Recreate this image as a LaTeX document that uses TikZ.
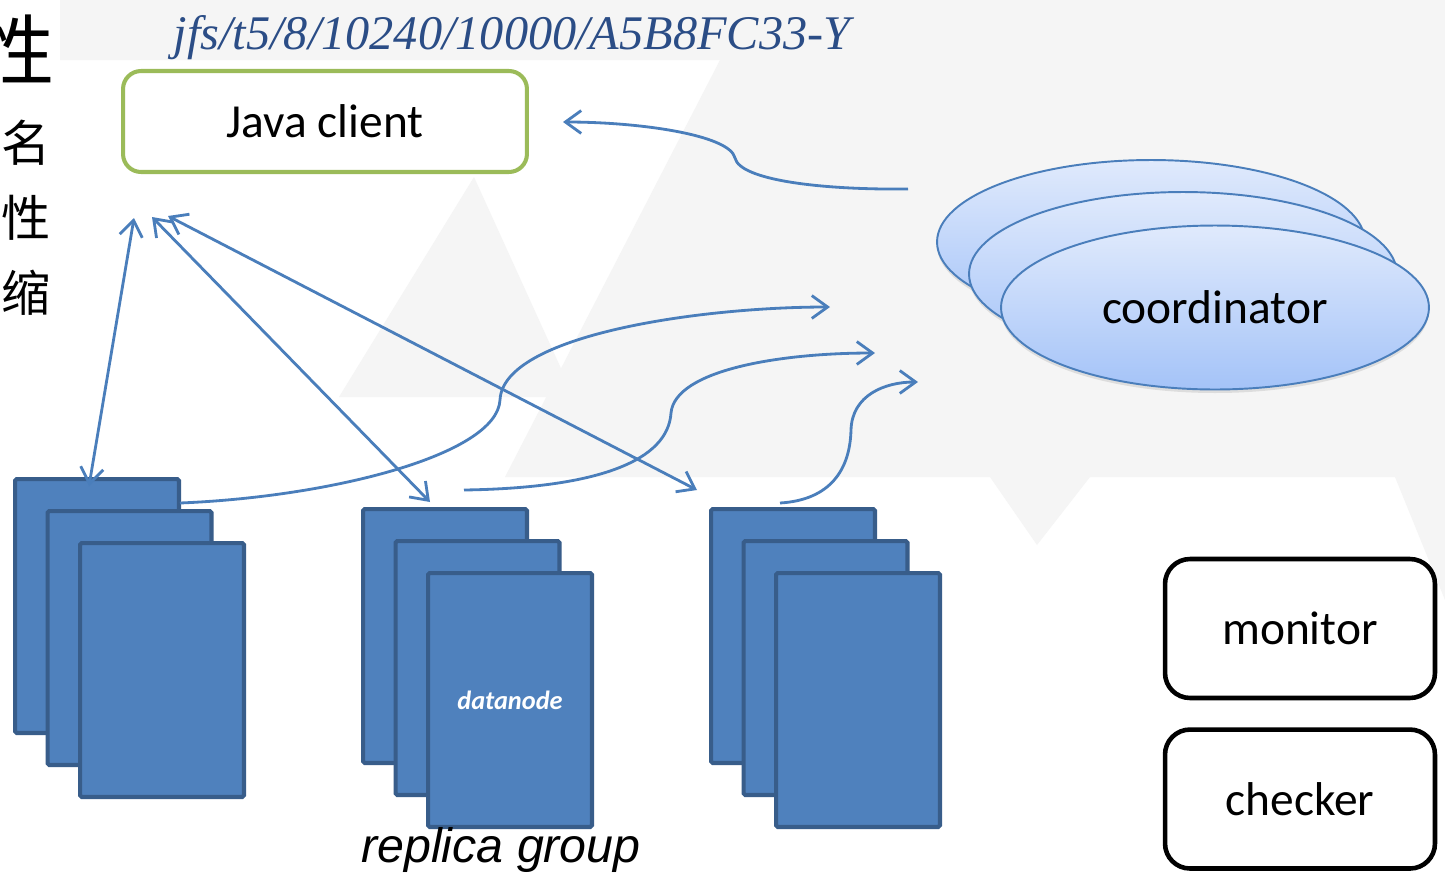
\documentclass[tikz,border=0pt]{standalone}
\usepackage{fontspec}
\setmainfont{Carlito}
\newfontfamily\arialfont{Liberation Sans}
\newfontfamily\timesfont{Liberation Serif}
\newfontfamily\cjk{Noto Sans CJK SC}
\usetikzlibrary{positioning,arrows.meta,shapes.geometric,shadows}

\definecolor{clientgreen}{HTML}{9BBB59}
\definecolor{coordedge}{HTML}{4A7EBB}
\definecolor{coordtop}{HTML}{E0EAFC}
\definecolor{coordbot}{HTML}{A4C3F8}
\definecolor{dnfill}{HTML}{4F81BD}
\definecolor{dnedge}{HTML}{385D8A}
\definecolor{linkblue}{HTML}{4A7EBB}
\definecolor{titleblue}{HTML}{2B4D86}

\begin{document}
\begin{tikzpicture}[x=0.02cm, y=-0.02cm, node distance=0.54cm,
    >={Straight Barb[length=9pt,width=13pt]},
    client/.style={draw=clientgreen, line width=2.3pt, rounded corners=0.36cm, fill=white, minimum width=8.08cm, minimum height=2.02cm, font=\fontsize{27}{32}\selectfont},
    coordinator/.style={ellipse, draw=coordedge, line width=1.1pt, top color=coordtop, bottom color=coordbot, minimum width=8.56cm, minimum height=3.28cm, inner sep=0pt, drop shadow={opacity=0.2, shadow xshift=0pt, shadow yshift=-2pt}, font=\fontsize{27}{32}\selectfont},
    datanode/.style={draw=dnedge, fill=dnfill, line width=2.3pt, rounded corners=1pt, minimum width=3.28cm, minimum height=5.08cm, inner sep=0pt, anchor=north west},
    service/.style={draw, line width=2.6pt, rounded corners=0.5cm, fill=white, minimum width=5.4cm, minimum height=2.78cm, font=\fontsize{27}{32}\selectfont},
    link/.style={draw=linkblue, line width=1.6pt},
    sidechar/.style={inner sep=0pt, font=\cjk\fontsize{28}{30}\selectfont},
    watermark/.style={fill=black!4}
    ]
    \useasboundingbox (0,0) rectangle (1445,873);
    \fill[white] (0,0) rectangle (1445,873);
    % faint logo in the back
    \fill[watermark] (60,0) -- (1445,0) -- (1445,477) -- (505,477) -- (720,60) -- (60,60) -- cycle;
    \fill[watermark] (339,397) -- (474,177) -- (574,397) -- cycle;
    \fill[watermark] (990,477) -- (1090,477) -- (1037,545) -- cycle;
    \fill[watermark] (1395,477) -- (1445,477) -- (1445,600) -- cycle;

    \node[sidechar, font=\cjk\fontsize{44}{48}\selectfont] (side0) at (16,50) {性};
    \foreach \ch/\y [count=\i] in {名/143, 性/218, 缩/293} {
      \node[sidechar] (side\i) at (26,\y) {\ch};
    };

    \node[font=\timesfont\itshape\fontsize{27.5}{32}\selectfont, text=titleblue, anchor=base] (path_title) at (512,49) {jfs/t5/8/10240/10000/A5B8FC33-Y};
    \node[client] (java_client) at (325,121.5) {Java client};

    \node[coordinator] (coord1) at (1151,242) {};
    \node[coordinator] (coord2) at (1183,274) {};
    \node[coordinator] (coord3) at (1215,307.5) {coordinator};

    \foreach \grp/\x/\y in {a/13/477, b/361/507, c/709/507} {
      \foreach \i in {0,1,2} {
        \node[datanode] (\grp\i) at (\x+32.5*\i, \y+32*\i) {};
      };
    };
    \node[font=\bfseries\itshape\fontsize{15}{18}\selectfont, text=white] (dn_label) at (b2) {datanode};
    \node[font=\arialfont\itshape\fontsize{27.5}{32}\selectfont, anchor=base] (replica_group) at (501,862) {replica group};

    \node[service] (monitor) at (1300,628.5) {monitor};
    \node[service, below=of monitor] (checker) {checker};

    % coordinator -> client
    \coordinate (co_out) at (908,189);
    \coordinate (cl_in) at (563,122);
    \draw[link,->] (co_out) .. controls (820,190) and (740,180) .. (735,158) .. controls (730,135) and (640,122) .. (cl_in);

    % client <-> datanodes
    \coordinate (cl1) at (134,218);
    \coordinate (cl2) at (152,217);
    \coordinate (cl3) at (168,216);
    \coordinate (dn1) at (89,486);
    \coordinate (dn2) at (430,502);
    \coordinate (dn3) at (697,490);
    \foreach \n in {1,2,3} {
      \draw[link,<->] (cl\n) -- (dn\n);
    };

    % datanodes -> coordinator
    \coordinate (up1) at (180,503);
    \coordinate (up2) at (464,490);
    \coordinate (up3) at (780,503);
    \coordinate (co1) at (830,307);
    \coordinate (co2) at (875,353);
    \coordinate (co3) at (918,382);
    \draw[link,->] (up1) .. controls (330,497) and (497,455) .. (500,400) .. controls (503,335) and (700,307) .. (co1);
    \draw[link,->] (up2) .. controls (600,488) and (668,460) .. (671,413) .. controls (675,370) and (780,353) .. (co2);
    \draw[link,->] (up3) .. controls (830,500) and (850,470) .. (851,430) .. controls (852,395) and (885,382) .. (co3);
\end{tikzpicture}
\end{document}
